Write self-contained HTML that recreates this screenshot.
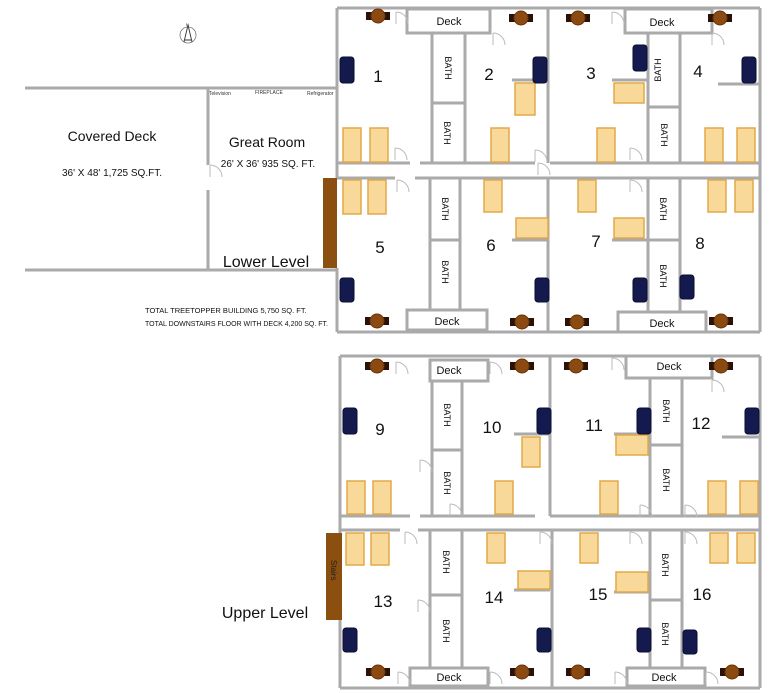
<!DOCTYPE html>
<html><head><meta charset="utf-8"><style>
html,body{margin:0;padding:0;background:#fff;}
svg{display:block;font-family:"Liberation Sans",sans-serif;}
</style></head><body>
<svg width="770" height="693" viewBox="0 0 770 693" xmlns="http://www.w3.org/2000/svg">
<defs>
<g id="tbl"><rect x="-12" y="-4" width="6" height="8" fill="#2a1208"/><rect x="6" y="-4" width="6" height="8" fill="#2a1208"/><circle r="7" fill="#8a4a12" stroke="#6a3208"/></g>
<g id="door"><path d="M0 0 A12 12 0 0 1 12 12" fill="none" stroke="#bbb" stroke-width="1"/><line x1="0" y1="0" x2="0" y2="12" stroke="#bbb"/></g>
</defs>
<rect width="770" height="693" fill="#fff"/>
<circle cx="188" cy="35" r="8" fill="none" stroke="#777" stroke-width="0.8"/>
<path d="M188 25 L184 42 M188 25 L192 42 M185 40 L191 40" stroke="#333" stroke-width="0.9" fill="none"/>
<text x="186" y="26" font-size="4">N</text>

<g stroke="#aaa" stroke-width="3" fill="none">
<line x1="25" y1="88" x2="337" y2="88"/>
<line x1="25" y1="270" x2="337" y2="270"/>
<line x1="208" y1="88" x2="208" y2="165"/><line x1="208" y1="190" x2="208" y2="270"/>
<line x1="337" y1="8" x2="760" y2="8"/>
<line x1="760" y1="8" x2="760" y2="332"/>
<line x1="337" y1="8" x2="337" y2="178"/>
<line x1="337" y1="268" x2="337" y2="332"/>
<line x1="337" y1="332" x2="760" y2="332"/>
<line x1="337" y1="163" x2="410" y2="163"/><line x1="420" y1="163" x2="535" y2="163"/><line x1="550" y1="163" x2="760" y2="163"/>
<line x1="337" y1="178" x2="395" y2="178"/><line x1="415" y1="178" x2="760" y2="178"/>
<line x1="548" y1="8" x2="548" y2="163"/><line x1="548" y1="178" x2="548" y2="332"/>
<rect x="407" y="9" width="83" height="24"/><rect x="625" y="9" width="87" height="24"/>
<line x1="432" y1="33" x2="432" y2="163"/><line x1="465" y1="33" x2="465" y2="163"/><line x1="432" y1="103" x2="465" y2="103"/>
<line x1="648" y1="33" x2="648" y2="163"/><line x1="680" y1="33" x2="680" y2="163"/><line x1="648" y1="107" x2="680" y2="107"/>
<line x1="430" y1="178" x2="430" y2="310"/><line x1="460" y1="178" x2="460" y2="310"/><line x1="430" y1="240" x2="460" y2="240"/>
<line x1="648" y1="178" x2="648" y2="312"/><line x1="680" y1="178" x2="680" y2="312"/><line x1="648" y1="240" x2="680" y2="240"/>
<rect x="407" y="310" width="80" height="20"/><rect x="618" y="312" width="88" height="20"/>
<line x1="512" y1="80" x2="548" y2="80"/><line x1="612" y1="80" x2="648" y2="80"/><line x1="718" y1="84" x2="760" y2="84"/>
<line x1="512" y1="240" x2="548" y2="240"/><line x1="612" y1="240" x2="648" y2="240"/>
<line x1="340" y1="356" x2="760" y2="356"/>
<line x1="760" y1="356" x2="760" y2="688"/>
<line x1="340" y1="356" x2="340" y2="533"/><line x1="340" y1="620" x2="340" y2="688"/>
<line x1="340" y1="688" x2="760" y2="688"/>
<line x1="340" y1="516" x2="410" y2="516"/><line x1="420" y1="516" x2="535" y2="516"/><line x1="550" y1="516" x2="760" y2="516"/>
<line x1="340" y1="530" x2="400" y2="530"/><line x1="418" y1="530" x2="760" y2="530"/>
<line x1="550" y1="356" x2="550" y2="516"/><line x1="552" y1="530" x2="552" y2="688"/>
<rect x="430" y="360" width="58" height="21"/><rect x="626" y="356" width="86" height="22"/>
<line x1="432" y1="381" x2="432" y2="516"/><line x1="462" y1="381" x2="462" y2="516"/><line x1="432" y1="450" x2="462" y2="450"/>
<line x1="650" y1="378" x2="650" y2="516"/><line x1="682" y1="378" x2="682" y2="516"/><line x1="650" y1="445" x2="682" y2="445"/>
<line x1="430" y1="530" x2="430" y2="668"/><line x1="462" y1="530" x2="462" y2="668"/><line x1="430" y1="595" x2="462" y2="595"/>
<line x1="650" y1="530" x2="650" y2="668"/><line x1="682" y1="530" x2="682" y2="668"/><line x1="650" y1="600" x2="682" y2="600"/>
<rect x="410" y="668" width="78" height="18"/><rect x="627" y="668" width="78" height="18"/>
<line x1="514" y1="434" x2="550" y2="434"/><line x1="614" y1="434" x2="650" y2="434"/><line x1="722" y1="437" x2="760" y2="437"/>
<line x1="514" y1="590" x2="550" y2="590"/><line x1="614" y1="592" x2="650" y2="592"/>
</g>
<rect x="323" y="178" width="14" height="90" fill="#8b4f10"/>
<rect x="326" y="533" width="16" height="87" fill="#8b4f10"/>
<text transform="translate(331,560) rotate(90)" font-size="8" fill="#222">Stairs</text>
<g>
<use href="#door" x="396" y="12"/><use href="#door" x="493" y="33"/><use href="#door" x="612" y="12"/><use href="#door" x="712" y="33"/>
<use href="#door" x="395" y="148"/><use href="#door" x="535" y="150"/><use href="#door" x="630" y="148"/>
<use href="#door" x="397" y="180"/><use href="#door" x="630" y="180"/><use href="#door" x="538" y="163"/>
<use href="#door" x="210" y="165"/>
<use href="#door" x="396" y="362"/><use href="#door" x="490" y="362"/><use href="#door" x="612" y="358"/><use href="#door" x="712" y="380"/>
<use href="#door" x="420" y="460"/><use href="#door" x="450" y="504"/><use href="#door" x="640" y="505"/><use href="#door" x="685" y="505"/>
<use href="#door" x="405" y="532"/><use href="#door" x="540" y="532"/><use href="#door" x="630" y="532"/><use href="#door" x="685" y="532"/>
<use href="#door" x="418" y="600"/><use href="#door" x="398" y="672"/><use href="#door" x="490" y="672"/><use href="#door" x="615" y="672"/><use href="#door" x="706" y="672"/>
</g>
<g fill="#f9d99a" stroke="#e2a848" stroke-width="1.5">
<rect x="343" y="128" width="18" height="34"/><rect x="370" y="128" width="18" height="34"/>
<rect x="515" y="83" width="20" height="32"/><rect x="491" y="128" width="18" height="34"/>
<rect x="614" y="83" width="30" height="20"/><rect x="597" y="128" width="18" height="34"/>
<rect x="705" y="128" width="18" height="34"/><rect x="737" y="128" width="18" height="34"/>
<rect x="343" y="180" width="18" height="34"/><rect x="368" y="180" width="18" height="34"/>
<rect x="484" y="180" width="18" height="32"/><rect x="516" y="218" width="32" height="20"/>
<rect x="578" y="180" width="18" height="32"/><rect x="614" y="218" width="30" height="20"/>
<rect x="708" y="180" width="18" height="32"/><rect x="735" y="180" width="18" height="32"/>
<rect x="347" y="481" width="18" height="33"/><rect x="373" y="481" width="18" height="33"/>
<rect x="522" y="437" width="18" height="30"/><rect x="495" y="481" width="18" height="33"/>
<rect x="616" y="435" width="32" height="20"/><rect x="600" y="481" width="18" height="33"/>
<rect x="708" y="481" width="18" height="33"/><rect x="740" y="481" width="18" height="33"/>
<rect x="346" y="533" width="18" height="32"/><rect x="371" y="533" width="18" height="32"/>
<rect x="487" y="533" width="18" height="30"/><rect x="518" y="571" width="32" height="18"/>
<rect x="580" y="533" width="18" height="30"/><rect x="616" y="572" width="32" height="20"/>
<rect x="710" y="533" width="18" height="30"/><rect x="737" y="533" width="18" height="30"/>
</g>
<g fill="#141a4e" stroke="#0a0e30">
<rect x="340" y="57" width="14" height="26" rx="3"/><rect x="533" y="57" width="14" height="26" rx="3"/>
<rect x="633" y="45" width="14" height="26" rx="3"/><rect x="742" y="57" width="14" height="26" rx="3"/>
<rect x="340" y="278" width="14" height="24" rx="3"/><rect x="535" y="278" width="14" height="24" rx="3"/>
<rect x="633" y="278" width="14" height="24" rx="3"/><rect x="680" y="275" width="14" height="24" rx="3"/>
<rect x="343" y="408" width="14" height="26" rx="3"/><rect x="537" y="408" width="14" height="26" rx="3"/>
<rect x="637" y="408" width="14" height="26" rx="3"/><rect x="745" y="408" width="14" height="26" rx="3"/>
<rect x="343" y="628" width="14" height="24" rx="3"/><rect x="537" y="628" width="14" height="24" rx="3"/>
<rect x="637" y="628" width="14" height="24" rx="3"/><rect x="683" y="630" width="14" height="24" rx="3"/>
</g>
<use href="#tbl" x="378" y="16"/><use href="#tbl" x="521" y="18"/><use href="#tbl" x="578" y="18"/><use href="#tbl" x="720" y="18"/>
<use href="#tbl" x="377" y="321"/><use href="#tbl" x="522" y="322"/><use href="#tbl" x="577" y="322"/><use href="#tbl" x="721" y="321"/>
<use href="#tbl" x="377" y="366"/><use href="#tbl" x="522" y="366"/><use href="#tbl" x="576" y="366"/><use href="#tbl" x="721" y="366"/>
<use href="#tbl" x="378" y="672"/><use href="#tbl" x="522" y="672"/><use href="#tbl" x="578" y="672"/><use href="#tbl" x="732" y="672"/>
<g fill="#111" font-size="11" text-anchor="middle">
<text x="449" y="25">Deck</text><text x="662" y="26">Deck</text>
<text x="447" y="325">Deck</text><text x="662" y="327">Deck</text>
<text x="449" y="374">Deck</text><text x="669" y="370">Deck</text>
<text x="449" y="681">Deck</text><text x="664" y="681">Deck</text>
</g>
<g fill="#111" font-size="9" text-anchor="middle">
<text transform="translate(445,68) rotate(90)">BATH</text>
<text transform="translate(444,133) rotate(90)">BATH</text>
<text transform="translate(661,70) rotate(-90)">BATH</text>
<text transform="translate(661,135) rotate(90)">BATH</text>
<text transform="translate(442,209) rotate(90)">BATH</text>
<text transform="translate(442,272) rotate(90)">BATH</text>
<text transform="translate(660,209) rotate(90)">BATH</text>
<text transform="translate(660,276) rotate(90)">BATH</text>
<text transform="translate(444,415) rotate(90)">BATH</text>
<text transform="translate(444,483) rotate(90)">BATH</text>
<text transform="translate(663,411) rotate(90)">BATH</text>
<text transform="translate(663,480) rotate(90)">BATH</text>
<text transform="translate(443,562) rotate(90)">BATH</text>
<text transform="translate(443,631) rotate(90)">BATH</text>
<text transform="translate(662,565) rotate(90)">BATH</text>
<text transform="translate(662,634) rotate(90)">BATH</text>
</g>
<g fill="#111" font-size="17" text-anchor="middle">
<text x="378" y="82">1</text><text x="489" y="80">2</text><text x="591" y="79">3</text><text x="698" y="77">4</text>
<text x="380" y="253">5</text><text x="491" y="251">6</text><text x="596" y="247">7</text><text x="700" y="249">8</text>
<text x="380" y="435">9</text><text x="492" y="433">10</text><text x="594" y="431">11</text><text x="701" y="429">12</text>
<text x="383" y="607">13</text><text x="494" y="603">14</text><text x="598" y="600">15</text><text x="702" y="600">16</text>
</g>
<g fill="#111" text-anchor="middle">
<text x="112" y="141" font-size="14">Covered Deck</text>
<text x="112" y="176" font-size="10">36' X 48'  1,725 SQ.FT.</text>
<text x="267" y="147" font-size="14">Great Room</text>
<text x="268" y="167" font-size="10">26' X 36'  935 SQ. FT.</text>
<text x="266" y="267" font-size="16">Lower Level</text>
<text x="265" y="618" font-size="16">Upper Level</text>
</g>
<g fill="#333" font-size="5">
<text x="209" y="95">Television</text><text x="255" y="94">FIREPLACE</text><text x="307" y="95">Refrigerator</text>
</g>
<g fill="#111" font-size="7.5">
<text x="145" y="313">TOTAL TREETOPPER BUILDING  5,750 SQ. FT.</text>
<text x="145" y="326" font-size="7">TOTAL DOWNSTAIRS FLOOR WITH DECK 4,200 SQ. FT.</text>
</g>
</svg>
</body></html>
